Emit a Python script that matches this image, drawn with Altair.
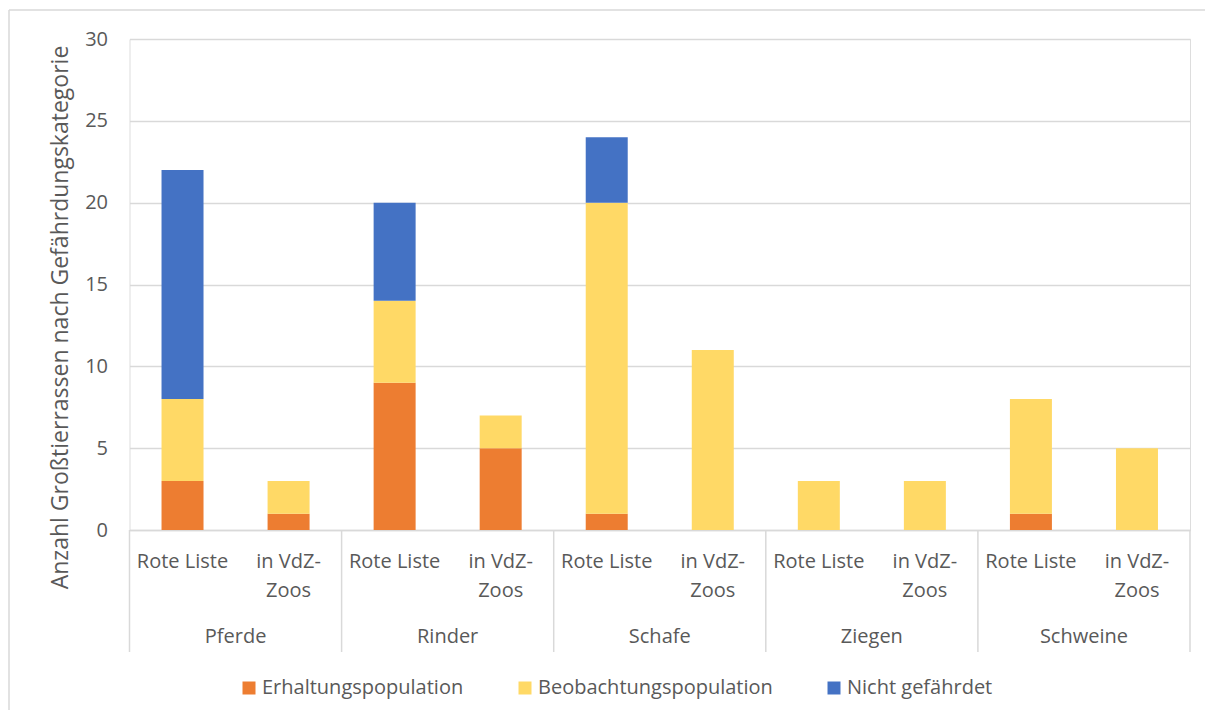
import altair as alt
import pandas as pd

groups = ["Pferde", "Rinder", "Schafe", "Ziegen", "Schweine"]
subcats = ["Rote Liste", "in VdZ-Zoos"]
sub_line1 = ["Rote Liste", "in VdZ-"]
sub_line2 = ["", "Zoos"]
series = ["Erhaltungspopulation", "Beobachtungspopulation", "Nicht gefährdet"]
colors = ["#ED7D31", "#FFD966", "#4472C4"]

# values per slot (group x subcat), order: Pferde RL, Pferde VdZ, Rinder RL, ...
erhaltung = [3, 1, 9, 5, 1, 0, 0, 0, 1, 0]
beobachtung = [5, 2, 5, 2, 19, 11, 3, 3, 7, 5]
nicht_gef = [14, 0, 6, 0, 4, 0, 0, 0, 0, 0]

slots = [f"{g}|{s}" for g in groups for s in subcats]
rows = []
for si, slot in enumerate(slots):
    for ci, (name, vals) in enumerate(zip(series, [erhaltung, beobachtung, nicht_gef])):
        if vals[si] > 0:
            rows.append({"slot": slot, "series": name, "ord": ci, "value": vals[si]})
df = pd.DataFrame(rows)

lab_rows = []
for g in groups:
    for j, s in enumerate(subcats):
        lab_rows.append({"slot": f"{g}|{s}", "l1": sub_line1[j], "l2": sub_line2[j]})
lab_df = pd.DataFrame(lab_rows)
grp_df = pd.DataFrame({"slot": [f"{g}|{subcats[0]}" for g in groups], "group": groups})
last_df = pd.DataFrame({"slot": [slots[-1]]})

W, H = 1060.5, 491
FONT = "Open Sans"
TXT = "#595959"
GRID = "#D9D9D9"

xscale = alt.Scale(domain=slots, paddingInner=0, paddingOuter=0)

bars = alt.Chart(df).mark_bar(width=alt.RelativeBandSize(0.396)).encode(
    x=alt.X("slot:N", scale=xscale, sort=slots,
            axis=alt.Axis(labels=False, ticks=False, title=None, domainColor=GRID,
                          domainWidth=1.5, grid=False)),
    y=alt.Y("value:Q", stack="zero",
            scale=alt.Scale(domain=[0, 30], nice=False),
            axis=alt.Axis(values=[0, 5, 10, 15, 20, 25, 30], grid=True, gridColor=GRID,
                          gridWidth=1.5, domain=False, ticks=False, labelPadding=22,
                          labelFont=FONT, labelFontSize=20, labelColor=TXT,
                          title="Anzahl Großtierrassen nach Gefährdungskategorie",
                          titleFont=FONT, titleFontSize=23, titleColor=TXT,
                          titleFontWeight="normal", titleAngle=270, titleAlign="center",
                          titleBaseline="middle", titleX=-69.5, titleY=278)),
    color=alt.Color("series:N", scale=alt.Scale(domain=series, range=colors),
                    legend=alt.Legend(title=None, orient="none", direction="horizontal",
                                      legendX=109.5, legendY=639, symbolType="square",
                                      symbolSize=169, symbolStrokeWidth=0,
                                      labelFont=FONT, labelFontSize=20, labelColor=TXT,
                                      labelOffset=3, columnPadding=51, labelLimit=0)),
    order=alt.Order("ord:Q", sort="ascending"),
)

seps = alt.Chart(grp_df).mark_rule(color=GRID, strokeWidth=1.5).encode(
    x=alt.X("slot:N", scale=xscale, sort=slots, bandPosition=0),
    y=alt.value(H), y2=alt.value(H + 122),
)
sep_last = alt.Chart(last_df).mark_rule(color=GRID, strokeWidth=1.5).encode(
    x=alt.X("slot:N", scale=xscale, sort=slots, bandPosition=1),
    y=alt.value(H), y2=alt.value(H + 122),
)

l1 = alt.Chart(lab_df).mark_text(font=FONT, fontSize=20, color=TXT, baseline="middle").encode(
    x=alt.X("slot:N", scale=xscale, sort=slots, bandPosition=0.5),
    y=alt.value(522.7), text="l1:N",
)
l2 = alt.Chart(lab_df).mark_text(font=FONT, fontSize=20, color=TXT, baseline="middle").encode(
    x=alt.X("slot:N", scale=xscale, sort=slots, bandPosition=0.5),
    y=alt.value(551.5), text="l2:N",
)
gl = alt.Chart(grp_df).mark_text(font=FONT, fontSize=20, color=TXT, baseline="middle").encode(
    x=alt.X("slot:N", scale=xscale, sort=slots, bandPosition=1),
    y=alt.value(597.7), text="group:N",
)

border_df = pd.DataFrame({"k": [0]})
border_top = alt.Chart(border_df).mark_rule(color=GRID, strokeWidth=1.5).encode(
    x=alt.value(-120.5), x2=alt.value(1090), y=alt.value(-29),
)
border_left = alt.Chart(border_df).mark_rule(color=GRID, strokeWidth=1.5).encode(
    x=alt.value(-120.5), y=alt.value(-29), y2=alt.value(690),
)

chart = alt.layer(border_top, border_left, bars, seps, sep_last, l1, l2, gl).properties(
    width=W, height=H,
    autosize=alt.AutoSizeParams(type="none"),
    padding={"left": 121.5, "top": 31, "right": 15, "bottom": 180},
).configure_view(strokeWidth=0).configure(background="white")

chart.save("out.html", embed_options={"renderer": "svg", "actions": False})
